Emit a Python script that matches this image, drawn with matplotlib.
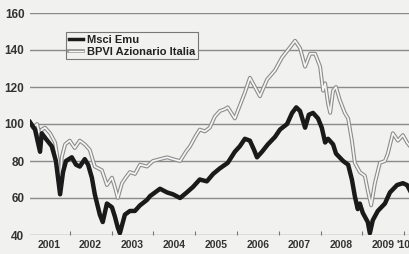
import matplotlib
matplotlib.use("Agg")
import matplotlib.pyplot as plt
from matplotlib.lines import Line2D
from matplotlib import font_manager

# ---- data (decimal years, index values) ----
msci_t = [2001.05, 2001.17, 2001.29, 2001.33, 2001.43, 2001.57, 2001.67, 2001.77, 2001.84, 2001.91,
          2002.05, 2002.15, 2002.24, 2002.36, 2002.44, 2002.53, 2002.60, 2002.72, 2002.79, 2002.89,
          2003.01, 2003.08, 2003.15, 2003.20, 2003.32, 2003.44, 2003.56, 2003.68, 2003.85, 2003.92,
          2004.04, 2004.16, 2004.33, 2004.47, 2004.64, 2004.80, 2004.95, 2005.11, 2005.28, 2005.43,
          2005.59, 2005.78, 2005.95, 2006.07, 2006.19, 2006.31, 2006.41, 2006.48, 2006.60, 2006.74,
          2006.91, 2007.03, 2007.20, 2007.32, 2007.42, 2007.51, 2007.63, 2007.72, 2007.82, 2007.94,
          2008.03, 2008.11, 2008.18, 2008.30, 2008.37, 2008.54, 2008.66, 2008.75, 2008.82, 2008.89,
          2008.94, 2009.01, 2009.13, 2009.18, 2009.25, 2009.37, 2009.54, 2009.66, 2009.83, 2009.97,
          2010.07, 2010.14]
msci_v = [101, 97, 85, 95, 92, 88, 80, 62, 74, 80,
          82, 78, 77, 81, 78, 71, 62, 51, 47, 57,
          55, 50, 44, 41, 51, 53, 53, 56, 59, 61,
          63, 65, 63, 62, 60, 63, 66, 70, 69, 73,
          76, 79, 85, 88, 92, 91, 86, 82, 85, 89,
          93, 97, 100, 106, 109, 107, 98, 105, 106, 103,
          98, 90, 92, 89, 84, 80, 78, 70, 61, 54,
          57, 52, 47, 41, 48, 53, 57, 63, 67, 68,
          67, 64]

bpvi_t = [2001.05, 2001.12, 2001.22, 2001.29, 2001.33, 2001.41, 2001.53, 2001.65, 2001.72, 2001.77,
          2001.81, 2001.89, 2002.00, 2002.12, 2002.24, 2002.36, 2002.48, 2002.60, 2002.77, 2002.89,
          2003.01, 2003.08, 2003.15, 2003.25, 2003.34, 2003.44, 2003.56, 2003.68, 2003.85, 2003.99,
          2004.16, 2004.33, 2004.47, 2004.64, 2004.78, 2004.88, 2005.00, 2005.11, 2005.23, 2005.35,
          2005.47, 2005.59, 2005.71, 2005.78, 2005.95, 2006.07, 2006.19, 2006.31, 2006.43, 2006.55,
          2006.72, 2006.91, 2007.08, 2007.22, 2007.39, 2007.51, 2007.63, 2007.75, 2007.87, 2007.99,
          2008.06, 2008.11, 2008.18, 2008.23, 2008.30, 2008.37, 2008.46, 2008.58, 2008.66, 2008.75,
          2008.82, 2008.94, 2009.06, 2009.13, 2009.21, 2009.30, 2009.42, 2009.54, 2009.61, 2009.73,
          2009.85, 2009.97, 2010.07, 2010.14]
bpvi_v = [101, 98, 100, 93, 97, 98, 95, 90, 80, 64,
          82, 89, 91, 87, 91, 89, 86, 77, 75, 67,
          71, 66, 60, 68, 71, 74, 73, 78, 77, 80,
          81, 82, 81, 80, 85, 88, 93, 97, 96, 98,
          104, 107, 108, 109, 103, 110, 117, 125, 120, 115,
          124, 129, 136, 140, 145, 141, 131, 138, 138, 131,
          118, 122, 111, 106, 118, 120, 113, 106, 103, 91,
          79, 74, 72, 64, 56, 68, 79, 80, 84, 95,
          91, 94, 90, 88]

yticks = [40, 60, 80, 100, 120, 140, 160]
year_labels = ["2001", "2002", "2003", "2004", "2005", "2006", "2007", "2008", "2009", "'10"]
year_label_pos = [2001.5, 2002.5, 2003.5, 2004.5, 2005.5, 2006.5, 2007.5, 2008.5, 2009.5, 2010.14]
year_bounds = [2002, 2003, 2004, 2005, 2006, 2007, 2008, 2009, 2010]


def pick_font(cands):
    for c in cands:
        try:
            font_manager.findfont(font_manager.FontProperties(family=c), fallback_to_default=False)
            return c
        except Exception:
            continue
    return 'DejaVu Sans'


FONT = [pick_font(['Liberation Sans Narrow', 'Liberation Sans', 'Roboto']), 'DejaVu Sans']
BG = '#f1f1ef'

fig = plt.figure(figsize=(4.10, 2.54), dpi=100, facecolor=BG)
ax = fig.add_axes([30/410, 19/254, 380/410, 222/254], facecolor=BG)
ax.set_xlim(2001.05, 2010.14)
ax.set_ylim(40, 160)

for s in ax.spines.values():
    s.set_visible(False)

for y in yticks:
    ax.axhline(y, color='#8a8a8a', lw=1.0, zorder=1)

ax.set_yticks(yticks)
ax.set_yticklabels([str(y) for y in yticks], family=FONT, fontweight='bold', fontsize=8.5, color='#333333')
ax.tick_params(axis='y', length=0, pad=4)

ax.set_xticks(year_bounds)
ax.set_xticklabels([])
ax.tick_params(axis='x', direction='in', length=3, color='#777777', width=0.8)
for i, (lab, pos) in enumerate(zip(year_labels, year_label_pos)):
    ha = 'right' if i == len(year_labels) - 1 else 'center'
    ax.text(pos, 40 - 5.4, lab, ha=ha, va='center', family=FONT, fontweight='bold',
            fontsize=7.5, color='#333333', clip_on=False)

# BPVI: outlined light line
ax.plot(bpvi_t, bpvi_v, color='#8c8c8c', lw=2.8, zorder=3, solid_joinstyle='round')
ax.plot(bpvi_t, bpvi_v, color='#f6f6f6', lw=1.2, zorder=4, solid_joinstyle='round')
# Msci Emu
ax.plot(msci_t, msci_v, color='#1a1a1a', lw=3.2, zorder=5, solid_joinstyle='round')

h1 = Line2D([], [], color='#1a1a1a', lw=2.5)
h2a = Line2D([], [], color='#8c8c8c', lw=2.6)
h2b = Line2D([], [], color='#f6f6f6', lw=1.0)
leg = ax.legend([h1, (h2a, h2b)], ['Msci Emu', 'BPVI Azionario Italia'],
                loc='upper left', bbox_to_anchor=(0.095, 0.914), borderaxespad=0,
                frameon=True, fancybox=False, facecolor=BG, edgecolor='#777777', framealpha=1,
                prop={'family': FONT, 'weight': 'bold', 'size': 8},
                handlelength=1.3, handletextpad=0.3, labelspacing=0.15, borderpad=0.25)
leg.get_frame().set_linewidth(0.8)
for t in leg.get_texts():
    t.set_color('#222222')

fig.savefig('out.png', dpi=100, facecolor=BG)
